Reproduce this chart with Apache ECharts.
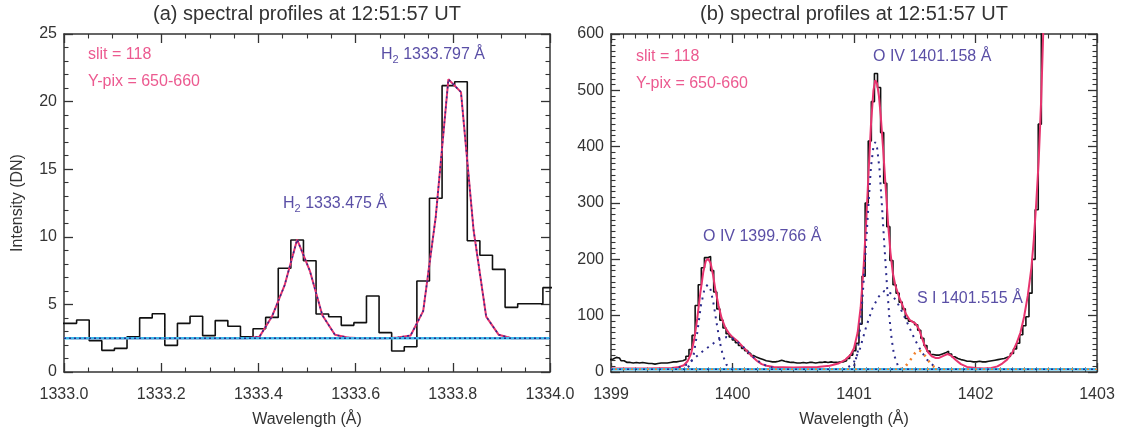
<!DOCTYPE html>
<html>
<head>
<meta charset="utf-8">
<title>spectral profiles at 12:51:57 UT</title>
<script src="https://cdn.jsdelivr.net/npm/echarts@6/dist/echarts.min.js"></script>
<style>
  html, body { margin: 0; padding: 0; background: #fff; }
  #chart { width: 1127px; height: 437px; }
</style>
</head>
<body>
<div id="chart"></div>
<script>
// ---------- panel (a): H2 lines near 1333.6 A ----------
const lamStartA = 1333.013;   // centre of the first bin
const dispA = 0.02593;        // A per binned pixel
const countsA = [
  3.60, 3.85, 2.32, 1.60, 1.75, 2.61, 4.00, 4.31, 1.97, 3.60,
  4.12, 2.69, 3.80, 3.38, 2.61, 3.20, 4.04, 7.67, 9.76, 8.23,
  4.29, 4.09, 3.45, 3.65, 5.62, 2.91, 1.55, 1.87, 6.73, 12.85,
  21.18, 21.47, 9.71, 8.63, 7.59, 4.78, 5.05, 5.05, 6.24
];
// gaussian fit (+ background), same bins
const fitA = [
  2.5, 2.5, 2.5, 2.5, 2.5, 2.5, 2.5, 2.5, 2.5, 2.5,
  2.5, 2.5, 2.5, 2.5, 2.5, 2.6, 4.1, 6.4, 9.8, 7.5,
  4.2, 2.75, 2.55, 2.5, 2.5, 2.5, 2.55, 2.7, 4.5, 11.5,
  21.65, 20.7, 10.5, 4.1, 2.75, 2.5, 2.5, 2.5, 2.5
];
const bgA = 2.5;
const xTicksA = [1333.0, 1334.0, 0.2];
const yTicksA = [0, 25, 5];

// ---------- panel (b): O IV / S I near 1401 A ----------
const lamStartB = 1398.993;
const dispB = 0.02544;
const countsB = [
  22, 23, 26, 25, 20, 17, 17, 16, 17, 16,
  17, 16, 15, 15, 14, 15, 16, 16, 16, 17,
  18, 18, 19, 20, 22, 28, 40, 65, 118, 155,
  185, 203, 205, 180, 142, 112, 92, 78, 68, 62,
  57, 52, 47, 42, 38, 33, 29, 26, 24, 22,
  20, 19, 18, 18, 19, 21, 19, 18, 17, 17,
  16, 16, 17, 16, 17, 17, 16, 17, 17, 18,
  17, 18, 17, 17, 18, 18, 20, 24, 30, 38,
  51, 85, 170, 300, 410, 480, 530, 505, 425, 335,
  258, 198, 155, 140, 124, 112, 95, 90, 88, 84,
  74, 60, 47, 37, 31, 30, 30, 32, 34, 37,
  32, 27, 24, 22, 21, 19, 19, 18, 18, 19,
  18, 18, 19, 20, 21, 22, 23, 24, 26, 28,
  33, 41, 51, 66, 82, 98, 140, 200, 288, 440,
  720, 1100, 1600, 2100, 2600, 3000, 3300, 3400, 3300, 3000,
  2600, 2200, 1800, 1500, 1200, 1000, 900, 800
];
// total fit
const fitB = [
  [1399.0, 6], [1399.3, 6], [1399.5, 7], [1399.56, 9], [1399.6, 12], [1399.63, 19],
  [1399.66, 33], [1399.685, 58], [1399.71, 95], [1399.735, 140], [1399.76, 178],
  [1399.78, 197], [1399.8, 201], [1399.82, 193], [1399.84, 172], [1399.86, 145],
  [1399.885, 118], [1399.91, 96], [1399.94, 79], [1399.97, 69], [1400.0, 62],
  [1400.04, 55], [1400.08, 46], [1400.12, 37], [1400.16, 28], [1400.2, 20],
  [1400.24, 14], [1400.28, 11], [1400.34, 9], [1400.5, 8], [1400.7, 9], [1400.8, 11],
  [1400.87, 15], [1400.93, 22], [1400.97, 30], [1401.0, 42], [1401.03, 70],
  [1401.055, 115], [1401.08, 190], [1401.1, 265], [1401.12, 355], [1401.14, 440],
  [1401.16, 500], [1401.175, 518], [1401.19, 512], [1401.205, 490], [1401.22, 455],
  [1401.24, 395], [1401.26, 330], [1401.28, 265], [1401.3, 212], [1401.32, 175],
  [1401.34, 154], [1401.37, 134], [1401.4, 118], [1401.43, 102], [1401.46, 92],
  [1401.49, 88], [1401.51, 85], [1401.535, 76], [1401.56, 60], [1401.585, 45],
  [1401.61, 35], [1401.64, 28], [1401.67, 25], [1401.7, 25], [1401.74, 29],
  [1401.77, 32], [1401.8, 29], [1401.84, 21], [1401.88, 14], [1401.93, 9],
  [1402.0, 7], [1402.07, 6], [1402.13, 7], [1402.18, 10], [1402.22, 15],
  [1402.26, 22], [1402.3, 33], [1402.34, 52], [1402.37, 70], [1402.4, 98],
  [1402.43, 135], [1402.46, 185], [1402.48, 235], [1402.5, 300], [1402.52, 375],
  [1402.54, 480], [1402.56, 620], [1402.58, 780]
];
// fit components
const narrowOIV1 = [
  [1399.58, 5], [1399.62, 6], [1399.65, 12], [1399.68, 30], [1399.71, 70], [1399.74, 118],
  [1399.77, 148], [1399.795, 155], [1399.82, 146], [1399.845, 120], [1399.87, 86],
  [1399.895, 54], [1399.92, 30], [1399.95, 13], [1399.98, 7], [1400.02, 5]
];
const broadOIV1 = [
  [1399.5, 6], [1399.6, 10], [1399.65, 17], [1399.7, 27], [1399.75, 36], [1399.8, 44],
  [1399.85, 52], [1399.9, 58], [1399.95, 62], [1400.0, 60], [1400.05, 52], [1400.1, 42],
  [1400.15, 31], [1400.2, 21], [1400.25, 14], [1400.3, 9], [1400.4, 5]
];
const narrowOIV2 = [
  [1400.95, 5], [1401.0, 10], [1401.03, 35], [1401.06, 100], [1401.09, 195], [1401.12, 300],
  [1401.14, 365], [1401.16, 400], [1401.175, 408], [1401.19, 398], [1401.21, 360],
  [1401.23, 295], [1401.25, 225], [1401.27, 158], [1401.29, 100], [1401.31, 58],
  [1401.33, 30], [1401.36, 12], [1401.4, 5]
];
const broadOIV2 = [
  [1400.9, 5], [1400.95, 8], [1401.0, 18], [1401.05, 42], [1401.1, 80], [1401.15, 112],
  [1401.2, 133], [1401.25, 144], [1401.3, 140], [1401.35, 126], [1401.4, 105],
  [1401.45, 82], [1401.5, 58], [1401.55, 38], [1401.6, 22], [1401.65, 12], [1401.7, 7],
  [1401.75, 5]
];
const sulfurI = [
  [1401.38, 5], [1401.42, 9], [1401.46, 20], [1401.5, 33], [1401.53, 39], [1401.56, 36],
  [1401.6, 24], [1401.64, 12], [1401.68, 6], [1401.72, 5]
];
const bgB = 5;
const xTicksB = [1399, 1403, 1];
const yTicksB = [0, 600, 100];

// ---------- helpers ----------
const FONT = "'Liberation Sans', Arial, sans-serif";
const INK = '#333';
const PINK = '#e8336e';
const NAVY = '#2b2b8c';
const CYAN = '#3cb8e8';
const ORANGE = '#f0802c';
const PURPLE = '#5a4fa6';
const LABELPINK = '#ec5a90';

// bin centres -> [x, y]; the outer bins are repeated so the steps reach the frame
function binned(start, disp, vals) {
  const pts = vals.map((v, i) => [start + i * disp, v]);
  pts.unshift([start - disp, vals[0]]);
  pts.push([start + vals.length * disp, vals[vals.length - 1]]);
  return pts;
}

function axisBase(grid, ticks, minorSplit) {
  return {
    type: 'value', gridIndex: grid,
    min: ticks[0], max: ticks[1], interval: ticks[2],
    axisLine: { show: true, onZero: false, lineStyle: { color: INK, width: 1.5 } },
    axisTick: { show: true, inside: true, length: 9, lineStyle: { color: INK, width: 1.3 } },
    minorTick: { show: true, splitNumber: minorSplit, length: 4.5, lineStyle: { color: INK, width: 1.1 } },
    splitLine: { show: false },
    minorSplitLine: { show: false }
  };
}

function xAxes(grid, ticks, minorSplit, digits) {
  return [
    Object.assign(axisBase(grid, ticks, minorSplit), {
      position: 'bottom',
      name: 'Wavelength (Å)', nameLocation: 'middle', nameGap: 40,
      nameTextStyle: { color: INK, fontSize: 16, fontFamily: FONT },
      axisLabel: {
        color: INK, fontSize: 16, fontFamily: FONT, margin: 15,
        formatter: v => v.toFixed(digits)
      }
    }),
    Object.assign(axisBase(grid, ticks, minorSplit), { position: 'top', axisLabel: { show: false } })
  ];
}

function yAxes(grid, ticks, minorSplit, name) {
  return [
    Object.assign(axisBase(grid, ticks, minorSplit), {
      position: 'left',
      name: name, nameLocation: 'middle', nameGap: 38,
      nameTextStyle: { color: INK, fontSize: 16, fontFamily: FONT },
      axisLabel: { color: INK, fontSize: 16, fontFamily: FONT, margin: 7 }
    }),
    Object.assign(axisBase(grid, ticks, minorSplit), { position: 'right', axisLabel: { show: false } })
  ];
}

function line(xi, data, color, width, type, extra) {
  return Object.assign({
    type: 'line', xAxisIndex: xi, yAxisIndex: xi, data: data,
    symbol: 'none', silent: true, clip: true,
    lineStyle: { color: color, width: width, type: type || 'solid' }
  }, extra || {});
}

function txt(x, y, s, color, size, align) {
  return {
    type: 'text', x: x, y: y, silent: true,
    style: { text: s, fill: color, font: size + 'px ' + FONT, align: align || 'left', verticalAlign: 'middle' }
  };
}

// H2 label with subscript
function h2(x, y, rest) {
  return [
    txt(x, y, 'H', PURPLE, 16),
    txt(x + 11.6, y + 5, '2', PURPLE, 11),
    txt(x + 17.7, y, ' ' + rest, PURPLE, 16)
  ];
}

const dots = [2, 3];
const bgLineA = [[xTicksA[0], bgA], [xTicksA[1], bgA]];
const bgLineB = [[xTicksB[0], bgB], [xTicksB[1], bgB]];
const fitPtsA = fitA.map((v, i) => [lamStartA + i * dispA, v]);

const chart = echarts.init(document.getElementById('chart'), null, { renderer: 'canvas' });

const option = {
  animation: false,
  backgroundColor: '#fff',
  grid: [
    { left: 64, top: 34, width: 486, height: 338, outerBoundsMode: 'none' },
    { left: 611, top: 34, width: 486, height: 338, outerBoundsMode: 'none' }
  ],
  xAxis: [].concat(xAxes(0, xTicksA, 4, 1), xAxes(1, xTicksB, 10, 0)),
  yAxis: [].concat(yAxes(0, yTicksA, 5, 'Intensity (DN)'), yAxes(1, yTicksB, 10, '')),
  series: [
    // panel (a)
    line(0, binned(lamStartA, dispA, countsA), '#111', 1.6, 'solid', { step: 'middle' }),
    line(0, fitPtsA, PINK, 2),
    line(0, fitPtsA, NAVY, 1.5, dots),
    line(0, bgLineA, CYAN, 2.5),
    line(0, bgLineA, NAVY, 1.5, dots),
    // panel (b)  (axis indices 2 = bottom x / left y of the second grid)
    line(2, binned(lamStartB, dispB, countsB), '#111', 1.6, 'solid', { step: 'middle' }),
    line(2, fitB, PINK, 2),
    line(2, narrowOIV1, NAVY, 2, [2, 5]),
    line(2, broadOIV1, NAVY, 2, [2, 5]),
    line(2, narrowOIV2, NAVY, 2, [2, 5]),
    line(2, broadOIV2, NAVY, 2, [2, 5]),
    line(2, sulfurI, ORANGE, 2.5, [2, 5]),
    line(2, bgLineB, CYAN, 2.5),
    line(2, bgLineB, NAVY, 1.5, [2, 6]),
    line(2, bgLineB, ORANGE, 1.5, [2, 6], { lineStyle: { color: ORANGE, width: 1.5, type: [2, 6], dashOffset: 4 } })
  ],
  graphic: [
    txt(307, 14, '(a) spectral profiles at 12:51:57 UT', INK, 20, 'center'),
    txt(854, 14, '(b) spectral profiles at 12:51:57 UT', INK, 20, 'center'),
    txt(88, 55, 'slit = 118', LABELPINK, 16),
    txt(88, 82, 'Y-pix = 650-660', LABELPINK, 16),
    txt(636, 57, 'slit = 118', LABELPINK, 16),
    txt(636, 84, 'Y-pix = 650-660', LABELPINK, 16),
    txt(703, 237, 'O IV 1399.766 Å', PURPLE, 16),
    txt(873, 57, 'O IV 1401.158 Å', PURPLE, 16),
    txt(917, 299, 'S I 1401.515 Å', PURPLE, 16)
  ].concat(h2(381, 55, '1333.797 Å'), h2(283, 204, '1333.475 Å'))
};

chart.setOption(option);
</script>
</body>
</html>
